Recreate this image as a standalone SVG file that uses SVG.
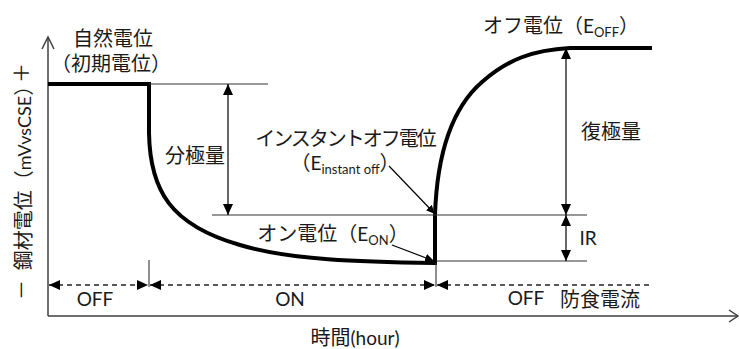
<svg xmlns="http://www.w3.org/2000/svg" width="739" height="349" viewBox="0 0 739 349">
<style>
text{font-family:Lato,"Noto Sans CJK JP",sans-serif;fill:#1a1a1a}
.j{font-size:20px}
.l{font-size:18px}
.m{font-size:19px}
.sub{font-size:13px}
.axis{stroke:#404040;stroke-width:1.5;fill:none}
.thin{stroke:#333;stroke-width:1.1;fill:none}
.curve{stroke:#000;stroke-width:4;fill:none}
.dash{stroke:#222;stroke-width:1.3;stroke-dasharray:5,4;fill:none}
.arr{stroke:#000;stroke-width:1.2;fill:none}
</style>
<defs>
<marker id="ah" markerUnits="userSpaceOnUse" markerWidth="12" markerHeight="10" refX="11" refY="5" orient="auto-start-reverse"><path d="M0,0 L11,5 L0,10z" fill="#000"/></marker>
<marker id="as" markerUnits="userSpaceOnUse" markerWidth="10" markerHeight="8" refX="9" refY="4" orient="auto"><path d="M0,0 L9,4 L0,8z" fill="#000"/></marker>
</defs>
<g id="axes">
<path class="axis" d="M48,316 V38 M48,316 H738"/>
<polyline class="axis" points="42,49 48,37 54,49"/>
<polyline class="axis" points="729,310 738,316 729,322"/>
</g>
<g id="potential-curve">
<path class="curve" d="M48,84 H149 V133 C150,190 170,225 240,245 C290,260 360,262 435,263 V215 C437,155 452,108 482,82 C507,60 532,50 570,48 H652"/>
</g>
<g id="connectors">
<path class="thin" d="M149,84 H268 M212,215 H587 M436,261 H587 M149,260 V287 M436,263 V287"/>
<path class="dash" d="M49,285 H148" marker-start="url(#ah)" marker-end="url(#ah)"/>
<path class="dash" d="M150,285 H435" marker-start="url(#ah)" marker-end="url(#ah)"/>
<path class="dash" d="M437,285 H651" marker-start="url(#ah)"/>
<path class="arr" d="M228,84 V215" marker-start="url(#ah)" marker-end="url(#ah)"/>
<path class="arr" d="M566,48 V215" marker-start="url(#ah)" marker-end="url(#ah)"/>
<path class="arr" d="M566,215 V261" marker-start="url(#ah)" marker-end="url(#ah)"/>
<path class="arr" d="M389,166 L435,214" marker-end="url(#as)"/>
<path class="arr" d="M392,245 L434,261" marker-end="url(#as)"/>
</g>
<g id="ylabel">
<text class="j" text-anchor="middle" transform="translate(31,173) rotate(-90)">鋼材電位（<tspan class="l">mVvsCSE</tspan>）</text>
<text class="j" text-anchor="middle" transform="translate(29,73) rotate(-90)">＋</text>
<text class="j" text-anchor="middle" transform="translate(29,290) rotate(-90)">－</text>
</g>
<g id="natural-potential">
<text class="j" x="113" y="46" text-anchor="middle">自然電位</text>
<text class="j" x="111" y="71" text-anchor="middle">（初期電位）</text>
</g>
<g id="polarization"><text class="j" x="195" y="163" text-anchor="middle">分極量</text></g>
<g id="instant-off">
<text class="j" x="345" y="146" text-anchor="middle" style="letter-spacing:-2px">インスタントオフ電位</text>
<text class="j" x="345" y="170" text-anchor="middle">（<tspan class="m">E</tspan><tspan class="sub" dy="4">instant off</tspan><tspan dy="-4">）</tspan></text>
</g>
<g id="on-potential"><text class="j" x="333" y="241" text-anchor="middle">オン電位（<tspan class="m">E</tspan><tspan class="sub" dy="4">ON</tspan><tspan dy="-4">）</tspan></text></g>
<g id="off-potential"><text class="j" x="561" y="33" text-anchor="middle">オフ電位（<tspan class="m">E</tspan><tspan class="sub" dy="4">OFF</tspan><tspan dy="-4">）</tspan></text></g>
<g id="depolarization"><text class="j" x="611" y="139" text-anchor="middle">復極量</text></g>
<g id="ir"><text class="m" x="588" y="245" text-anchor="middle">IR</text></g>
<g id="periods">
<text class="m" x="95" y="306" text-anchor="middle">OFF</text>
<text class="m" x="290" y="306" text-anchor="middle">ON</text>
<text class="m" x="526" y="305" text-anchor="middle">OFF</text>
<text class="j" x="600" y="307" text-anchor="middle">防食電流</text>
</g>
<g id="xlabel"><text class="j" x="355" y="345" text-anchor="middle">時間<tspan class="m">(hour)</tspan></text></g>
</svg>
